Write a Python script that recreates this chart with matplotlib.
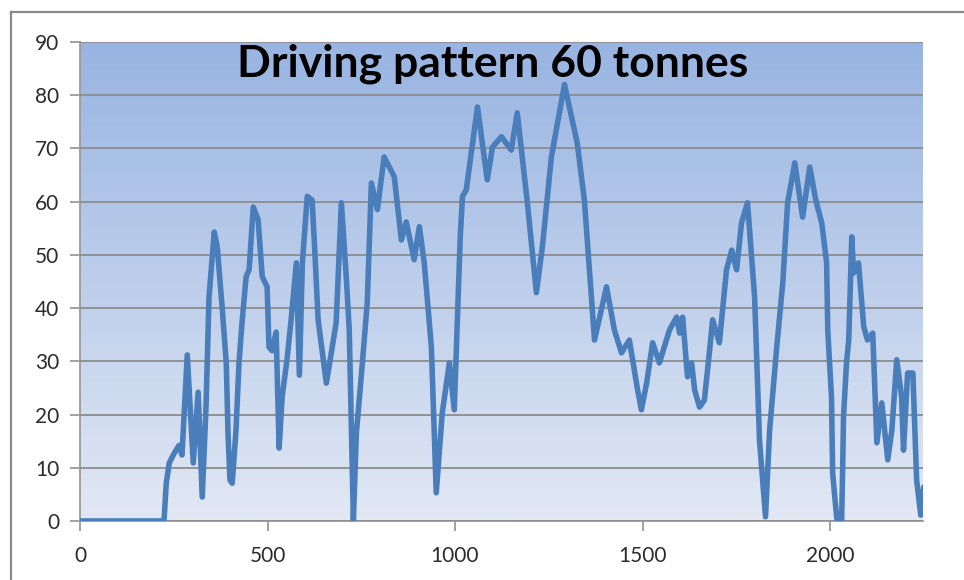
import matplotlib.pyplot as plt
import numpy as np
from matplotlib.lines import Line2D

# Speed trace (time in s, speed in km/h)
time_s = [0, 224, 230, 238, 251, 264, 272, 286, 302, 315, 326, 336, 344, 358, 366,
          379, 390, 395, 400, 406, 416, 424, 432, 443, 451, 462, 475, 486, 499, 504,
          512, 523, 531, 539, 552, 563, 577, 585, 593, 606, 619, 625, 635, 657, 670,
          683, 697, 710, 718, 729, 737, 753, 766, 777, 793, 811, 838, 857, 870, 891,
          905, 918, 937, 950, 966, 985, 998, 1014, 1020, 1030, 1060, 1086, 1100, 1124,
          1150, 1166, 1193, 1217, 1233, 1257, 1292, 1326, 1345, 1372, 1404, 1425, 1444,
          1465, 1487, 1497, 1511, 1527, 1545, 1572, 1591, 1599, 1607, 1620, 1631, 1639,
          1652, 1665, 1679, 1687, 1705, 1724, 1738, 1751, 1764, 1780, 1799, 1812, 1828,
          1839, 1858, 1874, 1887, 1906, 1927, 1946, 1962, 1978, 1991, 1994, 2004, 2007,
          2018, 2031, 2034, 2036, 2044, 2050, 2058, 2063, 2076, 2090, 2100, 2114, 2125,
          2138, 2154, 2165, 2178, 2191, 2196, 2207, 2221, 2231, 2242, 2250]
speed = [0, 0, 7.1, 10.9, 12.7, 14.2, 12.4, 31.2, 10.9, 24.2, 4.5, 21.4, 42, 54.3, 51.5,
         40.2, 29.7, 15.8, 7.7, 7.1, 17.1, 29.7, 37.2, 45.9, 47.2, 59, 56.6, 45.9, 44, 32.7,
         32, 35.5, 13.7, 23.3, 30.3, 37.8, 48.5, 27.4, 48.5, 61, 60.3, 52.3, 37.8, 25.9, 31.6,
         37.2, 59.8, 45.9, 35.9, 0.2, 16.5, 29.7, 41, 63.5, 58.5, 68.4, 64.7, 52.8, 56.2, 49.1,
         55.3, 48.5, 32.7, 5.3, 20.3, 29.7, 20.9, 53.4, 61, 62.2, 77.8, 64.1, 70.3, 72.2,
         69.7, 76.7, 59.8, 42.9, 51.5, 68.4, 82, 71, 60.3, 34, 44, 35.9, 31.6,
         34, 24.6, 20.9, 25.9, 33.5, 29.7, 35.9, 38.3, 35.3, 38.3, 27.1, 29.7, 24.6,
         21.4, 22.7, 32.1, 37.8, 33.5, 47.2, 50.9, 47.2, 56, 59.8, 42.1, 15.2, 0.8,
         17.1, 32.7, 44.7, 59.8, 67.3, 57.1, 66.5, 60.3, 56, 48.5, 35.9, 23.3, 9,
         0.5, 0, 10.9, 19.5, 29.7, 34, 53.4, 46.6, 48.5, 36.5, 34, 35.3, 14.7,
         22.2, 11.5, 17.1, 30.3, 23.3, 13.3, 27.8, 27.8, 7.7, 1.1, 6.4]

plt.rcParams['font.family'] = ['Lato', 'DejaVu Sans']

fig = plt.figure(figsize=(9.64, 5.80), dpi=100)
ax = fig.add_axes([80 / 964, 1 - 521 / 580, (923 - 80) / 964, (521 - 42) / 580])

# blue gradient behind the plot area
grad = np.linspace(0, 1, 256).reshape(-1, 1)
top = np.array([152, 180, 226]) / 255
bottom = np.array([226, 232, 244]) / 255
img = top + (bottom - top) * grad
ax.imshow(img.reshape(256, 1, 3), extent=[0, 1, 0, 1], transform=ax.transAxes,
          aspect='auto', zorder=0)

ax.plot(time_s, speed, color='#4a7ebb', lw=4, solid_joinstyle='round',
        solid_capstyle='round', zorder=3)

ax.set_xlim(0, 2248)
ax.set_ylim(0, 90)
ax.set_xticks(range(0, 2001, 500))
ax.set_yticks(range(0, 91, 10))
ax.grid(axis='y', color='#8c8c8c', lw=1.3, zorder=1)
ax.set_axisbelow(False)

for s in ['top', 'right']:
    ax.spines[s].set_visible(False)
for s in ['left', 'bottom']:
    ax.spines[s].set_color('#9a9a9a')
    ax.spines[s].set_linewidth(1.3)
ax.tick_params(axis='both', colors='#9a9a9a', length=7, width=1.3,
               labelcolor='#2b2b2b', labelsize=15)
ax.tick_params(axis='y', pad=8)
ax.tick_params(axis='x', pad=11)

ax.text(0.49, 0.955, 'Driving pattern 60 tonnes', transform=ax.transAxes,
        ha='center', va='center', fontsize=32, fontweight='bold', color='black',
        zorder=4)

# outer chart border
fig.add_artist(Line2D([11 / 964, 11 / 964], [0, 1 - 12 / 580], transform=fig.transFigure,
                      color='#8a8a8a', lw=1.6))
fig.add_artist(Line2D([11 / 964, 1], [1 - 12 / 580, 1 - 12 / 580], transform=fig.transFigure,
                      color='#8a8a8a', lw=1.6))

fig.savefig('out.png', dpi=100)
